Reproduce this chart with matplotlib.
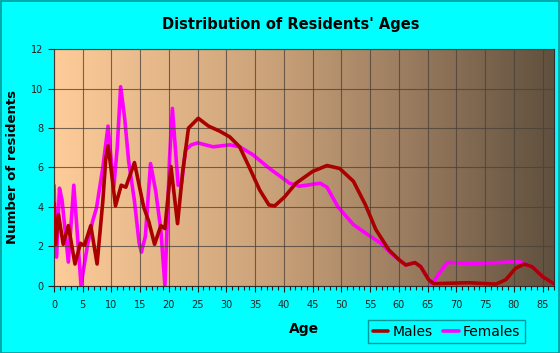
import matplotlib.pyplot as plt
import numpy as np
from matplotlib.colors import LinearSegmentedColormap
from matplotlib.ticker import MultipleLocator

# values
male_age = [0, 0.3, 0.8, 1.6, 2.5, 3.65, 4.6, 5.3, 6.4, 7.5, 8.5, 9.0, 9.4, 9.9, 10.7, 11.7,
            12.5, 14.0, 15.6, 16.5, 17.5, 18.6, 19.3, 20.35, 21.5, 22.4, 23.4, 25.1, 26.9,
            28.8, 30.6, 32.3, 34.0, 35.8, 37.4, 38.4, 40.1, 42.1, 45.0, 47.5, 49.7, 52.1,
            54.2, 56.0, 58.3, 60.1, 61.2, 62.8, 63.8, 65.2, 66.1, 68.2, 72.2, 76.9, 78.6,
            80.3, 81.8, 83.2, 85.0, 86.7, 87]
male_val = [4.2, 2.1, 3.6, 2.1, 3.05, 1.1, 2.15, 2.05, 3.05, 1.1, 4.3, 6.4, 7.1, 6.0, 4.05, 5.1,
            5.0, 6.25, 4.0, 3.25, 2.1, 3.05, 2.9, 6.05, 3.15, 5.8, 8.0, 8.5, 8.1,
            7.85, 7.55, 7.05, 6.0, 4.85, 4.1, 4.05, 4.5, 5.2, 5.8, 6.1, 5.95, 5.3,
            4.1, 2.85, 1.8, 1.3, 1.05, 1.17, 0.97, 0.3, 0.1, 0.12, 0.15, 0.08, 0.3,
            0.88, 1.1, 0.96, 0.46, 0.15, 0.1]

fem_age = [0, 0.45, 0.95, 1.4, 2.5, 3.45, 4.7, 5.8, 6.7, 7.4, 8.5, 9.4, 10.4, 11.0, 11.6, 12.3,
           13.0, 14.0, 14.8, 15.2, 15.9, 16.8, 17.7, 18.6, 19.3, 20.1, 20.6, 21.6, 22.2,
           22.9, 23.9, 25.0, 27.7, 30.6, 32.3, 34.6, 37.5, 41.0, 42.7, 46.3, 47.5, 49.4,
           52.1, 54.3, 56.9, 58.6, 60.1, 61.2, 62.8, 63.8, 65.0, 65.8, 67.2, 68.5, 72.2,
           76.9, 80.9, 83.2, 85.0, 86.7, 87]
fem_val = [5.1, 1.45, 4.95, 4.35, 1.2, 5.1, 0.03, 2.0, 3.25, 3.95, 6.0, 8.1, 5.0, 7.0, 10.1, 8.5,
           6.3, 4.3, 2.2, 1.7, 2.5, 6.2, 4.8, 2.8, 0.0, 6.4, 9.0, 5.1, 5.2,
           6.9, 7.15, 7.25, 7.05, 7.15, 7.05, 6.65, 5.95, 5.2, 5.05, 5.2, 5.0, 4.0,
           3.1, 2.65, 2.15, 1.65, 1.3, 1.05, 1.17, 0.97, 0.4, 0.08, 0.7, 1.18, 1.13,
           1.17, 1.22, 0.96, 0.46, 0.15, 0.1]

fig = plt.figure(figsize=(5.6, 3.53), dpi=100, facecolor='#00FFFF')
fig.patches.append(plt.Rectangle((0.001, 0.001), 0.997, 0.996, transform=fig.transFigure,
                                 fill=False, edgecolor='#009999', lw=1.2))
ax = fig.add_axes([0.0964, 0.1907, 0.8929, 0.6696])

# background gradient of the plot area
cmap = LinearSegmentedColormap.from_list('bg', [(0, '#FECC99'), (0.45, '#C8A078'),
                                                (0.7, '#9C7D60'), (1, '#5F503E')])
ax.imshow(np.linspace(0, 1, 256).reshape(1, -1), cmap=cmap, aspect='auto',
          extent=[0, 87, 0, 12], zorder=0)

ax.plot(male_age, male_val, color='#AA0000', lw=2.6, solid_joinstyle='round',
        solid_capstyle='round', zorder=3, label='Males')
ax.plot(fem_age, fem_val, color='#FF00FF', lw=2.6, solid_joinstyle='round',
        solid_capstyle='round', zorder=2, label='Females')

ax.set_xlim(0, 87)
ax.set_ylim(0, 12)
ax.xaxis.set_major_locator(MultipleLocator(5))
ax.xaxis.set_minor_locator(MultipleLocator(1))
ax.yaxis.set_major_locator(MultipleLocator(2))
ax.grid(True, color='#4A4038', lw=0.8, alpha=0.75, zorder=1)
ax.set_axisbelow(False)
for s in ax.spines.values():
    s.set_color('#303030')
    s.set_linewidth(0.8)
ax.tick_params(axis='both', labelsize=7, colors='#202020', length=4, width=0.8)
ax.tick_params(axis='x', which='minor', length=3, width=0.8, colors='#202020')
ax.tick_params(axis='x', pad=6)

fig.text(0.52, 0.93, "Distribution of Residents' Ages", fontsize=10.5, fontweight='bold',
         ha='center', va='center')
ax.set_xlabel('Age', fontsize=10, fontweight='bold', labelpad=9)
fig.text(0.022, 0.527, 'Number of residents', fontsize=9.5, fontweight='bold',
         rotation=90, ha='center', va='center')

leg = fig.legend(loc='lower left', bbox_to_anchor=(0.657, 0.027), bbox_transform=fig.transFigure,
                 ncol=2, frameon=True, fontsize=10, handlelength=1.1, handletextpad=0.3,
                 columnspacing=0.8, borderpad=0.35, fancybox=False, borderaxespad=0)
leg.get_frame().set_facecolor('#00FFFF')
leg.get_frame().set_edgecolor('#008080')
leg.get_frame().set_linewidth(1)

fig.savefig('out.png', dpi=100, facecolor=fig.get_facecolor())
